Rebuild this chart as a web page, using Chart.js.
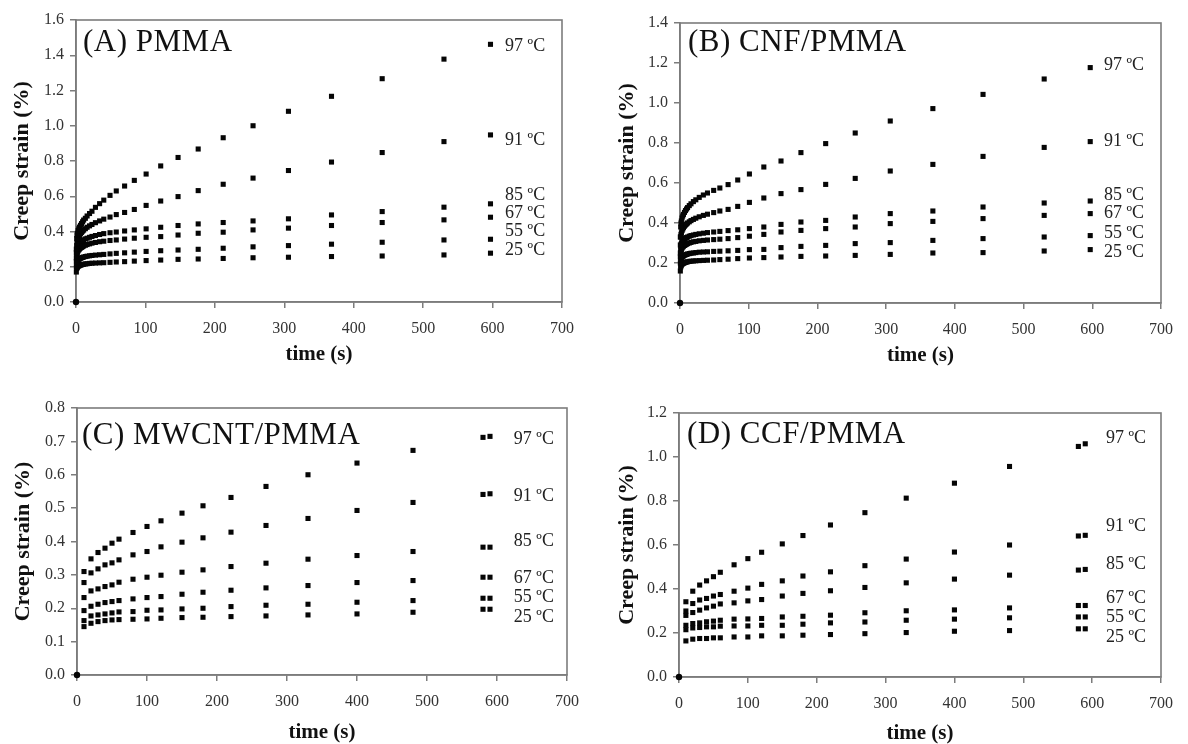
<!DOCTYPE html>
<html><head><meta charset="utf-8">
<script src="https://cdn.jsdelivr.net/npm/chart.js@4.4.1/dist/chart.umd.min.js"></script>
<style>
html,body{margin:0;padding:0;background:#fff;}
#wrap{position:relative;width:1188px;height:744px;overflow:hidden;}
.pane{position:absolute;width:594px;height:372px;}
.pane canvas{display:block;}
</style></head><body>
<div id="wrap">
<div class="pane" style="left:0;top:0"><canvas id="cA" width="594" height="372"></canvas></div>
<div class="pane" style="left:594px;top:0"><canvas id="cB" width="594" height="372"></canvas></div>
<div class="pane" style="left:0;top:372px"><canvas id="cC" width="594" height="372"></canvas></div>
<div class="pane" style="left:594px;top:372px"><canvas id="cD" width="594" height="372"></canvas></div>
</div>
<script>
// ---------- DATA ----------
const tempLabels = ['97 ºC', '91 ºC', '85 ºC', '67 ºC', '55 ºC', '25 ºC'];
const xTicks = [0, 100, 200, 300, 400, 500, 600, 700];
const yTicksA = [0, 0.2, 0.4, 0.6, 0.8, 1.0, 1.2, 1.4, 1.6];
const yTicksB = [0, 0.2, 0.4, 0.6, 0.8, 1.0, 1.2, 1.4];
const yTicksC = [0, 0.1, 0.2, 0.3, 0.4, 0.5, 0.6, 0.7, 0.8];
const yTicksD = [0, 0.2, 0.4, 0.6, 0.8, 1.0, 1.2];
const originT = [0];
const originStrain = [0];

// time (s) for panels A and B
const timeAB = [0.5, 1, 1.5, 2, 3, 4, 5, 6.5, 8, 9.5, 11, 13.5, 16, 19.5, 23, 28, 34, 40, 49, 58, 70, 84, 101, 122, 147, 176, 212, 255, 306, 368, 441, 530, 597];
// time (s) for panels C and D
const timeCD = [10, 20, 30, 40, 50, 60, 80, 100, 120, 150, 180, 220, 270, 330, 400, 480, 580, 590];

// (A) PMMA
const strainA97 = [0.30, 0.36, 0.38, 0.39, 0.405, 0.415, 0.425, 0.435, 0.445, 0.455, 0.465, 0.475, 0.488, 0.502, 0.515, 0.537, 0.558, 0.578, 0.605, 0.63, 0.658, 0.69, 0.726, 0.772, 0.82, 0.868, 0.932, 1.0, 1.082, 1.167, 1.267, 1.378, 1.462];
const strainA91 = [0.28, 0.32, 0.335, 0.345, 0.36, 0.37, 0.378, 0.387, 0.395, 0.402, 0.408, 0.416, 0.424, 0.432, 0.44, 0.45, 0.46, 0.47, 0.482, 0.496, 0.508, 0.525, 0.548, 0.573, 0.598, 0.632, 0.668, 0.703, 0.746, 0.794, 0.848, 0.91, 0.948];
const strainA85 = [0.25, 0.29, 0.30, 0.31, 0.32, 0.327, 0.333, 0.339, 0.344, 0.349, 0.353, 0.358, 0.362, 0.367, 0.372, 0.377, 0.383, 0.388, 0.393, 0.397, 0.403, 0.409, 0.415, 0.424, 0.434, 0.443, 0.451, 0.46, 0.472, 0.494, 0.513, 0.538, 0.557];
const strainA67 = [0.23, 0.265, 0.275, 0.282, 0.29, 0.296, 0.301, 0.306, 0.31, 0.314, 0.318, 0.322, 0.326, 0.33, 0.334, 0.338, 0.342, 0.345, 0.349, 0.352, 0.357, 0.362, 0.367, 0.371, 0.38, 0.39, 0.396, 0.409, 0.419, 0.434, 0.451, 0.466, 0.481];
const strainA55 = [0.2, 0.22, 0.228, 0.233, 0.238, 0.242, 0.245, 0.248, 0.251, 0.253, 0.255, 0.258, 0.26, 0.262, 0.264, 0.266, 0.268, 0.27, 0.273, 0.276, 0.279, 0.283, 0.287, 0.291, 0.295, 0.299, 0.305, 0.313, 0.32, 0.328, 0.339, 0.352, 0.356];
const strainA25 = [0.17, 0.19, 0.195, 0.198, 0.202, 0.205, 0.207, 0.209, 0.211, 0.213, 0.214, 0.216, 0.217, 0.219, 0.22, 0.221, 0.222, 0.223, 0.225, 0.227, 0.229, 0.232, 0.235, 0.238, 0.242, 0.244, 0.247, 0.251, 0.254, 0.258, 0.261, 0.267, 0.277];

// (B) CNF/PMMA
const strainB97 = [0.33, 0.38, 0.40, 0.41, 0.425, 0.435, 0.443, 0.453, 0.462, 0.47, 0.477, 0.487, 0.496, 0.507, 0.516, 0.528, 0.54, 0.55, 0.563, 0.575, 0.592, 0.615, 0.645, 0.68, 0.71, 0.752, 0.797, 0.85, 0.91, 0.972, 1.043, 1.12, 1.177];
const strainB91 = [0.29, 0.33, 0.342, 0.35, 0.362, 0.37, 0.377, 0.384, 0.39, 0.395, 0.40, 0.406, 0.412, 0.418, 0.424, 0.431, 0.438, 0.444, 0.452, 0.46, 0.468, 0.483, 0.503, 0.525, 0.547, 0.567, 0.593, 0.623, 0.66, 0.693, 0.733, 0.778, 0.807];
const strainB85 = [0.25, 0.28, 0.29, 0.297, 0.305, 0.311, 0.315, 0.32, 0.324, 0.327, 0.33, 0.334, 0.337, 0.34, 0.343, 0.346, 0.349, 0.352, 0.355, 0.358, 0.362, 0.366, 0.372, 0.38, 0.393, 0.405, 0.413, 0.43, 0.447, 0.46, 0.48, 0.50, 0.51];
const strainB67 = [0.23, 0.255, 0.263, 0.268, 0.275, 0.28, 0.284, 0.288, 0.291, 0.294, 0.297, 0.30, 0.303, 0.306, 0.308, 0.311, 0.313, 0.315, 0.317, 0.319, 0.322, 0.327, 0.334, 0.343, 0.355, 0.363, 0.372, 0.38, 0.397, 0.408, 0.422, 0.438, 0.447];
const strainB55 = [0.2, 0.215, 0.221, 0.225, 0.23, 0.233, 0.236, 0.239, 0.241, 0.243, 0.245, 0.247, 0.249, 0.25, 0.252, 0.254, 0.255, 0.256, 0.258, 0.259, 0.261, 0.263, 0.267, 0.268, 0.277, 0.283, 0.288, 0.297, 0.302, 0.313, 0.322, 0.33, 0.337];
const strainB25 = [0.16, 0.18, 0.186, 0.19, 0.194, 0.197, 0.199, 0.201, 0.203, 0.205, 0.206, 0.208, 0.209, 0.21, 0.211, 0.212, 0.213, 0.214, 0.215, 0.217, 0.219, 0.222, 0.225, 0.227, 0.23, 0.233, 0.235, 0.238, 0.243, 0.25, 0.252, 0.26, 0.267];

// (C) MWCNT/PMMA
const strainC97 = [0.31, 0.348, 0.367, 0.38, 0.395, 0.407, 0.427, 0.445, 0.462, 0.485, 0.507, 0.532, 0.565, 0.6, 0.635, 0.673, 0.712, 0.715];
const strainC91 = [0.277, 0.306, 0.318, 0.33, 0.336, 0.345, 0.36, 0.37, 0.384, 0.398, 0.411, 0.428, 0.448, 0.469, 0.493, 0.517, 0.541, 0.543];
const strainC85 = [0.232, 0.252, 0.258, 0.265, 0.27, 0.278, 0.287, 0.293, 0.299, 0.308, 0.315, 0.325, 0.335, 0.347, 0.358, 0.37, 0.383, 0.383];
const strainC67 = [0.193, 0.206, 0.212, 0.217, 0.22, 0.223, 0.228, 0.232, 0.235, 0.242, 0.248, 0.254, 0.261, 0.268, 0.277, 0.283, 0.293, 0.293];
const strainC55 = [0.163, 0.177, 0.18, 0.183, 0.186, 0.189, 0.19, 0.194, 0.195, 0.198, 0.2, 0.205, 0.209, 0.212, 0.218, 0.223, 0.23, 0.23];
const strainC25 = [0.145, 0.155, 0.16, 0.163, 0.165, 0.166, 0.167, 0.168, 0.17, 0.172, 0.173, 0.175, 0.177, 0.18, 0.183, 0.188, 0.197, 0.197];

// (D) CCF/PMMA
const strainD97 = [0.342, 0.39, 0.418, 0.437, 0.456, 0.476, 0.51, 0.538, 0.567, 0.605, 0.643, 0.691, 0.747, 0.813, 0.881, 0.957, 1.048, 1.06];
const strainD91 = [0.3, 0.334, 0.35, 0.357, 0.368, 0.375, 0.39, 0.404, 0.421, 0.437, 0.459, 0.478, 0.506, 0.536, 0.568, 0.6, 0.641, 0.644];
const strainD85 = [0.28, 0.293, 0.304, 0.314, 0.322, 0.332, 0.337, 0.346, 0.352, 0.368, 0.38, 0.392, 0.407, 0.428, 0.445, 0.463, 0.486, 0.489];
const strainD67 = [0.235, 0.243, 0.246, 0.251, 0.254, 0.258, 0.263, 0.264, 0.266, 0.273, 0.276, 0.281, 0.292, 0.301, 0.305, 0.314, 0.325, 0.325];
const strainD55 = [0.215, 0.223, 0.225, 0.228, 0.228, 0.231, 0.232, 0.232, 0.235, 0.235, 0.24, 0.246, 0.25, 0.258, 0.263, 0.269, 0.273, 0.273];
const strainD25 = [0.164, 0.172, 0.175, 0.175, 0.178, 0.178, 0.182, 0.182, 0.187, 0.187, 0.19, 0.193, 0.197, 0.202, 0.208, 0.211, 0.219, 0.219];

// label anchors for the temperature annotations (data units)
const labelYA = [1.453, 0.92, 0.608, 0.504, 0.40, 0.291];
const labelYB = [1.19, 0.81, 0.539, 0.447, 0.347, 0.255];
const labelYC = [0.705, 0.537, 0.40, 0.29, 0.232, 0.173];
const labelYD = [1.087, 0.684, 0.514, 0.357, 0.271, 0.182];

// ---------- DRAWING ----------
const SERIF = "'Liberation Serif','Times New Roman',serif";
const GRAY = '#7c7c7c';

function makePanel(id, cfg) {
  const datasets = cfg.series.map((s, i) => ({
    label: tempLabels[i],
    data: cfg.time.map((t, k) => ({x: t, y: s[k]})),
    pointStyle: 'rect', pointRadius: 3.6, pointBorderWidth: 0,
    backgroundColor: '#050505', borderColor: '#050505', showLine: false, clip: false
  }));
  datasets.push({
    label: 'origin',
    data: originT.map((t, k) => ({x: t, y: originStrain[k]})),
    pointStyle: 'circle', pointRadius: 3.2, pointBorderWidth: 0,
    backgroundColor: '#050505', borderColor: '#050505', showLine: false, clip: false
  });

  const panelPlugin = {
    id: 'panelDeco',
    beforeDatasetsDraw(chart) {
      const {ctx, chartArea: a} = chart;
      ctx.save();
      ctx.strokeStyle = GRAY;
      ctx.lineWidth = 1.6;
      ctx.strokeRect(a.left, a.top, a.right - a.left, a.bottom - a.top);
      ctx.restore();
    },
    afterDatasetsDraw(chart) {
      const {ctx, chartArea: a, scales} = chart;
      ctx.save();
      ctx.fillStyle = '#111';
      ctx.font = '31px ' + SERIF;
      try { ctx.letterSpacing = '0.5px'; } catch (e) {}
      ctx.textAlign = 'left';
      ctx.textBaseline = 'alphabetic';
      ctx.fillText(cfg.title, a.left + cfg.titleDx, a.top + cfg.titleDy);
      try { ctx.letterSpacing = '0px'; } catch (e) {}
      ctx.font = '18px ' + SERIF;
      ctx.fillStyle = '#222';
      ctx.textBaseline = 'middle';
      const lx = scales.x.getPixelForValue(cfg.labelT);
      tempLabels.forEach((txt, i) => {
        ctx.fillText(txt, lx, scales.y.getPixelForValue(cfg.labelY[i]));
      });
      ctx.restore();
    }
  };

  new Chart(document.getElementById(id), {
    type: 'scatter',
    data: {datasets},
    plugins: [panelPlugin],
    options: {
      responsive: false,
      devicePixelRatio: 1,
      animation: false,
      events: [],
      layout: {padding: {top: cfg.padTop, right: cfg.padRight, bottom: 0, left: 0}},
      plugins: {legend: {display: false}, tooltip: {enabled: false}},
      scales: {
        x: {
          type: 'linear', min: 0, max: 700,
          afterBuildTicks: s => { s.ticks = xTicks.map(v => ({value: v})); },
          afterFit: s => { s.height = cfg.xH; },
          ticks: {font: {family: SERIF, size: 16}, color: '#333', padding: 11, maxRotation: 0, autoSkip: false,
                  callback: v => String(v)},
          grid: {drawOnChartArea: false, drawTicks: true, tickLength: 6, color: GRAY, lineWidth: 1.5},
          border: {display: true, color: GRAY, width: 1.6},
          title: {display: true, text: 'time (s)', color: '#111',
                  font: {family: SERIF, size: 21, weight: 'bold', lineHeight: 1},
                  padding: {top: 0, bottom: cfg.xTitlePad}}
        },
        y: {
          type: 'linear', min: 0, max: cfg.yTicks[cfg.yTicks.length - 1],
          afterBuildTicks: s => { s.ticks = cfg.yTicks.map(v => ({value: v})); },
          afterFit: s => { s.width = cfg.yW; },
          ticks: {font: {family: SERIF, size: 16}, color: '#333', padding: 6, autoSkip: false,
                  callback: v => Number(v).toFixed(1)},
          grid: {drawOnChartArea: false, drawTicks: true, tickLength: 6, color: GRAY, lineWidth: 1.5},
          border: {display: true, color: GRAY, width: 1.6},
          title: {display: true, text: 'Creep strain (%)', color: '#111',
                  font: {family: SERIF, size: 22, weight: 'bold', lineHeight: 1},
                  padding: {top: cfg.yTitlePad, bottom: 0}}
        }
      }
    }
  });
}

makePanel('cA', {
  title: '(A) PMMA', titleDx: 7, titleDy: 31,
  time: timeAB, series: [strainA97, strainA91, strainA85, strainA67, strainA55, strainA25],
  yTicks: yTicksA, labelY: labelYA, labelT: 618,
  padTop: 20, padRight: 32, xH: 70, yW: 76, xTitlePad: 7, yTitlePad: 11
});
makePanel('cB', {
  title: '(B) CNF/PMMA', titleDx: 8, titleDy: 28,
  time: timeAB, series: [strainB97, strainB91, strainB85, strainB67, strainB55, strainB25],
  yTicks: yTicksB, labelY: labelYB, labelT: 617,
  padTop: 23, padRight: 27, xH: 69, yW: 86, xTitlePad: 6, yTitlePad: 22
});
makePanel('cC', {
  title: '(C) MWCNT/PMMA', titleDx: 5, titleDy: 36,
  time: timeCD, series: [strainC97, strainC91, strainC85, strainC67, strainC55, strainC25],
  yTicks: yTicksC, labelY: labelYC, labelT: 624,
  padTop: 36, padRight: 27, xH: 69, yW: 77, xTitlePad: 1, yTitlePad: 12
});
makePanel('cD', {
  title: '(D) CCF/PMMA', titleDx: 8, titleDy: 30,
  time: timeCD, series: [strainD97, strainD91, strainD85, strainD67, strainD55, strainD25],
  yTicks: yTicksD, labelY: labelYD, labelT: 620,
  padTop: 41, padRight: 27, xH: 67, yW: 85, xTitlePad: 0, yTitlePad: 22
});
</script>
</body></html>
